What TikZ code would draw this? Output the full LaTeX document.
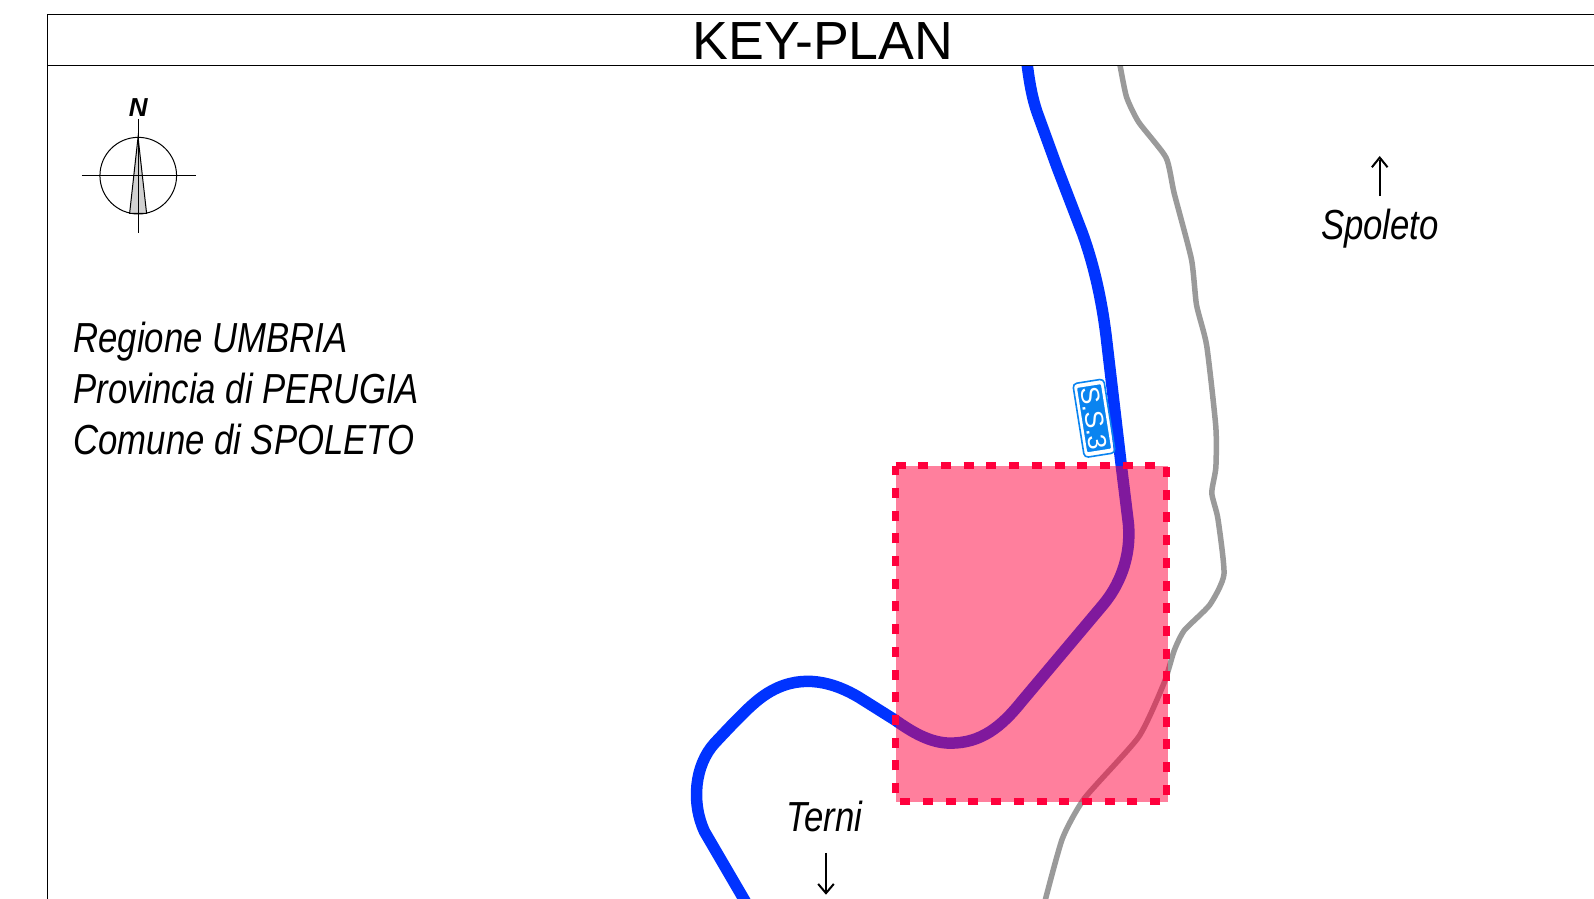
\documentclass[tikz,border=0pt]{standalone}
\usepackage{fontspec}
\setmainfont{Liberation Sans}
\definecolor{roadblue}{HTML}{0033FF}
\definecolor{zonered}{HTML}{FF003C}
\definecolor{tollgray}{HTML}{9A9A9A}
\definecolor{signblue}{HTML}{0A84F0}
\tikzset{
  lbl/.style={anchor=base,inner sep=0pt,font=\fontsize{42}{42}\selectfont\itshape},
  lblw/.style={anchor=base west,inner sep=0pt,font=\fontsize{42}{42}\selectfont\itshape},
  road/.style={draw=roadblue,line width=11.5pt},
  rail/.style={draw=tollgray,line width=5.5pt},
  thin line/.style={draw=black,line width=1pt}
}
\newcommand{\nrw}[1]{\scalebox{0.827}[1]{#1}}
\begin{document}
\begin{tikzpicture}[x=1.01658pt,y=-1.01658pt]
\useasboundingbox (0,0) rectangle (1568,884.3);
\fill[white] (0,0) rectangle (1568,884.3);
\begin{scope}
\clip (47,64) rectangle (1568,884.3);
\draw[rail,line join=round] plot[smooth,tension=.35] coordinates {(1101,60) (1108,95) (1120,120) (1147,155) (1155,190) (1172,255) (1177,300) (1187,340) (1196,420) (1196,460) (1192,485) (1198,510) (1204,565) (1190,595) (1165,620) (1155,640) (1145,672) (1120,725) (1067,785) (1045,825) (1027,890)};
\draw[road,line join=round] (1010,60) .. controls (1013,85) and (1016,98) .. (1020,110) -- (1040,165) -- (1065,230) .. controls (1075,258) and (1083,290) .. (1088,330) -- (1103,458) -- (1110,515) .. controls (1113,550) and (1100,577) .. (1085,595) -- (1005,690) .. controls (985,715) and (965,731) .. (935,731) .. controls (915,731) and (897,720) .. (880,708) -- (845,686) .. controls (820,671) and (790,663) .. (760,679) .. controls (745,687) and (733,699) .. (703,731) .. controls (683,753) and (680,790) .. (693,818) -- (735,890);
\end{scope}
\fill[zonered,fill opacity=.5] (881,458) rectangle (1149,789);
\draw[zonered,line width=7pt,dash pattern=on 10pt off 12.7pt] (881,458) -- (1147.5,458) -- (1147.5,788) -- (881,788) -- cycle;
% frame
\draw[thin line] (1570,14) -- (47,14) -- (47,890);
\draw[thin line] (47,64) -- (1570,64);
\node (title) [inner sep=0pt,font=\fontsize{53.7}{53.7}\selectfont] at (809.5,40) {KEY-PLAN};
% north arrow
\coordinate (nc) at (136,172.8);
\draw[line width=1pt,fill=white] (nc) circle (37.7);
\draw[line width=1pt,fill=black!18] (135.8,135) -- (127.5,209.8) -- (144.2,209.8) -- cycle;
\draw[line width=1pt] (80.6,172.8) -- (192.7,172.8);
\draw[line width=1pt] (136,117) -- (136,229);
\node (north) [inner sep=0pt,font=\fontsize{26}{26}\selectfont\bfseries\itshape] at (136,105.5) {N};
% texts
\node (reg) [lblw] at (72,346.5) {\nrw{Regione UMBRIA}};
\node (prov) [lblw] at (72,397) {\nrw{Provincia di PERUGIA}};
\node (com) [lblw] at (72,447) {\nrw{Comune di SPOLETO}};
\node (spo) [lbl] at (1357.5,236) {\nrw{Spoleto}};
\node (ter) [lbl] at (811,817.5) {\nrw{Terni}};
\draw[line width=2.2pt] (1357.2,193) -- (1357.2,157);
\draw[line width=2pt] (1349.5,164.5) -- (1357.2,155) -- (1364.9,164.5);
\draw[line width=2.2pt] (812.5,839) -- (812.5,877);
\draw[line width=2pt] (804.8,869.5) -- (812.5,878.6) -- (820.2,869.5);
% sign
\draw[signblue,line width=1.6pt,rounded corners=4pt,rotate around={-81:(1076.2,411.4)}] (1039.5,396) rectangle (1113,426.8);
\node (sign) [rotate=-81,minimum width=67pt,minimum height=26pt,inner sep=0pt,rounded corners=2pt,fill=signblue,draw=white,line width=1.8pt,text=white,font=\fontsize{26}{26}\selectfont] at (1076.2,411.4) {S.S.3};
\end{tikzpicture}
\end{document}
